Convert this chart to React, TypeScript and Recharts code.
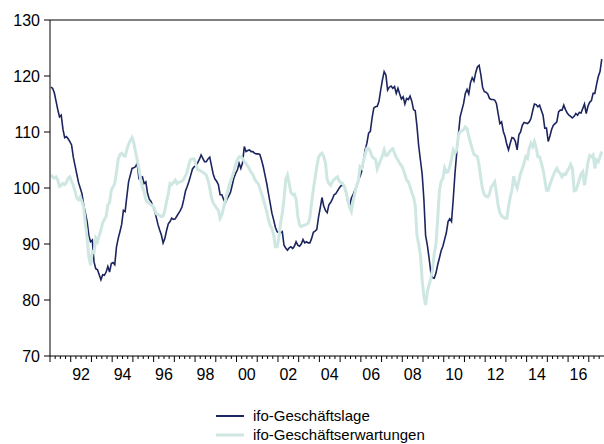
import React from "react";
import { LineChart, Line, XAxis, YAxis, ReferenceLine, Legend } from "recharts";

// monthly values, first observation Jan 1991
const startYear = 1991;

// ifo-Geschäftslage, one row per year
const lage = [
  118.0, 117.8, 117.0, 115.5, 114.0, 112.7, 113.0, 110.5, 109.0, 109.2, 108.8, 108.3,
  107.7, 105.5, 104.0, 102.5, 101.0, 100.0, 99.0, 97.0, 95.5, 94.0, 91.5, 90.4,
  90.7, 86.8, 85.6, 85.4, 84.5, 83.6, 84.5, 84.4, 85.0, 86.0, 85.0, 86.5,
  86.7, 86.3, 89.5, 91.0, 92.2, 93.5, 96.0, 95.8, 98.5, 101.1, 102.3, 103.5,
  103.6, 103.8, 104.4, 101.7, 101.9, 102.0, 100.8, 101.1, 99.0, 98.0, 97.6, 96.8,
  96.0, 94.8, 93.5, 92.5, 91.6, 90.2, 91.0, 92.4, 93.6, 94.0, 94.6, 94.4,
  94.5, 95.0, 95.5, 96.0, 96.7, 98.0, 99.5, 100.3, 101.2, 102.3, 103.4, 103.8,
  104.0, 104.5, 105.1, 105.9, 105.3, 104.7, 104.7, 105.2, 105.5, 104.0, 102.5, 101.6,
  101.2, 100.6, 98.8, 98.8, 98.0, 97.3, 98.0, 98.6, 99.2, 100.5, 101.8, 102.6,
  103.2, 104.4, 103.5, 104.5, 107.4, 106.5, 106.7, 106.8, 106.5, 106.5, 106.2, 106.1,
  106.1, 106.0, 105.0, 103.8, 102.3, 100.8, 99.0, 97.3, 95.5, 94.3, 93.0, 92.2,
  92.0, 92.0, 92.2, 89.8, 89.3, 88.9, 89.3, 89.5, 89.2, 89.6, 90.4, 89.8,
  89.6, 90.0, 90.8, 90.2, 90.4, 90.2, 90.2, 91.0, 92.1, 92.3, 92.6, 94.8,
  96.5, 98.3, 96.8, 96.0, 95.6, 97.0, 97.4, 98.0, 98.8, 99.0, 99.5, 100.0,
  100.4, 100.5, 100.3, 99.0, 97.5, 96.7, 98.2, 98.8, 99.6, 100.2, 101.4, 102.0,
  103.0, 104.8, 106.8, 108.0, 109.8, 110.1, 112.5, 114.3, 114.5, 114.6, 115.5, 117.5,
  119.3, 120.8, 120.2, 117.5, 118.0, 118.2, 117.8, 118.1, 116.9, 117.8, 116.8, 115.9,
  116.3, 115.0, 116.0, 115.8, 116.4, 115.5, 114.0, 113.8, 111.0, 107.5, 105.0, 102.5,
  98.0, 91.5, 89.8, 87.5, 85.0, 84.0, 83.9, 84.8, 86.3, 87.5, 88.8, 89.6,
  90.8, 92.0, 94.0, 94.5, 94.0, 98.0, 102.6, 106.2, 109.6, 112.7, 113.9, 115.1,
  116.9, 117.6, 116.8, 118.8, 119.7, 119.1, 120.6, 121.6, 121.9, 120.2, 118.0, 117.2,
  117.1, 116.8, 116.0, 115.8, 115.8, 115.7, 115.1, 113.3, 111.5, 111.8, 110.1, 109.2,
  107.8, 106.8, 108.0, 109.0, 108.9, 108.3, 106.8, 109.5, 110.0, 111.2, 111.7, 111.6,
  111.5, 111.8, 112.4, 113.8, 115.0, 114.9, 114.5, 114.8, 113.9, 113.0, 110.7, 110.7,
  108.3, 109.3, 110.5, 111.2, 111.5, 111.8, 113.6, 113.9, 113.9, 114.8, 114.0, 113.4,
  113.0, 112.8, 112.5, 112.8, 113.3, 113.0, 113.5, 113.4, 114.2, 115.0, 113.3, 114.6,
  115.3, 115.6, 116.9, 116.9, 118.5, 119.9, 120.8, 123.0,
];

// ifo-Geschäftserwartungen, one row per year
const erwartungen = [
  102.3, 102.0, 101.8, 102.0, 101.4, 100.3, 100.5, 100.8, 100.6, 101.0, 101.7, 102.0,
  101.2, 100.5, 99.4, 98.2, 97.9, 98.4, 97.6, 96.5, 93.7, 91.0, 87.7, 86.2,
  88.6, 88.5, 91.0, 90.4, 91.5, 92.5, 93.8, 94.4, 94.9, 97.0, 97.4, 99.6,
  100.2, 100.8, 102.8, 105.2, 106.0, 106.2, 105.8, 105.7, 106.8, 107.8, 108.5, 109.0,
  108.1, 106.5, 105.0, 103.5, 101.5, 100.2, 99.3, 97.9, 97.5, 97.3, 97.0, 96.8,
  96.3, 95.4, 95.3, 95.1, 94.9, 95.0, 96.0, 97.6, 99.0, 100.8, 100.6, 101.0,
  101.4, 100.8, 101.0, 101.1, 101.2, 101.6, 102.2, 103.0, 104.3, 105.1, 105.2, 105.2,
  104.2, 103.3, 103.2, 103.0, 102.8, 102.6, 102.3, 101.4, 100.0, 98.3, 97.3, 96.9,
  96.4, 96.0, 94.6, 95.2, 96.5, 97.6, 99.0, 100.1, 101.2, 102.0, 103.0, 104.2,
  105.0, 105.6, 105.6, 105.3, 104.7, 104.4, 103.9, 103.4, 102.8, 102.4, 101.6, 101.1,
  100.8, 100.0, 99.0, 98.1, 96.9, 95.8, 94.3, 93.3, 92.8, 91.7, 89.5, 89.5,
  91.0, 93.7, 95.5, 98.0, 101.5, 102.3, 100.8, 99.2, 98.8, 98.9, 98.0, 95.0,
  93.4, 93.1, 93.3, 93.4, 93.5, 93.7, 94.7, 97.5, 99.8, 101.8, 103.8, 105.5,
  106.0, 106.2, 105.6, 104.5, 101.5, 100.8, 100.5, 101.1, 101.5, 101.8, 102.0, 101.2,
  101.0, 100.8, 100.2, 99.2, 97.8, 96.5, 95.8, 97.6, 99.0, 100.4, 101.1, 103.8,
  103.5, 104.8, 106.0, 107.1, 107.1, 106.5, 105.6, 105.3, 105.1, 103.4, 104.2, 105.0,
  105.8, 106.8, 105.8, 105.9, 106.4, 106.8, 107.0, 106.2, 105.5, 105.0, 104.4, 104.0,
  103.4, 102.4, 101.4, 101.1, 100.2, 99.2, 98.4, 96.9, 91.5, 90.0, 88.0, 83.6,
  80.6, 79.1, 81.5, 82.7, 83.8, 85.4, 88.3, 90.0, 94.5, 99.5, 101.2, 101.7,
  103.6, 102.8, 102.9, 103.8, 105.2, 106.8, 106.2, 106.8, 109.4, 110.1, 110.2, 110.4,
  110.9, 110.6, 109.2, 108.1, 107.0, 106.0, 105.8, 105.6, 104.0, 101.7, 99.8, 98.8,
  98.5, 98.4, 99.0, 100.2, 100.6, 101.1, 99.2, 96.9, 95.6, 95.0, 94.8, 94.6,
  94.6, 96.6, 98.4, 99.6, 102.1, 100.7, 100.0, 101.3, 102.6, 103.5, 104.4, 105.6,
  105.3, 107.1, 108.0, 107.4, 108.3, 107.2, 105.6, 105.6, 104.5, 103.3, 101.5, 99.6,
  99.6, 100.6, 101.5, 102.3, 103.0, 103.5, 102.9, 102.6, 102.0, 102.5, 102.4, 103.0,
  103.5, 104.2, 103.5, 99.5, 99.6, 100.5, 101.5, 102.5, 102.9, 100.5, 102.4, 104.6,
  105.8, 105.6, 105.9, 103.5, 105.0, 104.7, 105.6, 106.5,
];

const yTicks = [70, 80, 90, 100, 110, 120, 130];
const legendOrder = ["lage", "erw"];

const data = lage.map((v, i) => ({ m: i, lage: v, erw: erwartungen[i] }));

// quarter boundaries in month units (boundary sits half a month before the first month)
const xMax = lage.length + 0.3;
const quarterTicks: number[] = [];
for (let q = 0; q * 3 - 0.5 <= xMax; q++) quarterTicks.push(q * 3 - 0.5);

function TimeTick(props: any) {
  const { x, y, payload } = props;
  const q = Math.round((payload.value + 0.5) / 3);
  const major = q % 4 === 0;
  const year = startYear + Math.floor(q / 4);
  const label = q % 4 === 2 && year % 2 === 0;
  return (
    <g>
      <line x1={x} x2={x} y1={y} y2={y + (major ? 6 : 3)} stroke="#000" />
      {label && (
        <text x={x} y={y + 24} textAnchor="middle" fontSize={16} fill="#000">
          {String(year % 100).padStart(2, "0")}
        </text>
      )}
    </g>
  );
}

const renderLegend = ({ payload }: any) => {
  const items = [...(payload || [])].sort(
    (a: any, b: any) => legendOrder.indexOf(a.dataKey) - legendOrder.indexOf(b.dataKey)
  );
  return (
    <div style={{ fontSize: 15, lineHeight: "19px", color: "#000" }}>
      {items.map((e: any) => (
        <div key={e.value} style={{ display: "flex", alignItems: "center", height: 19 }}>
          <svg width={28} height={6} style={{ marginRight: 9 }}>
            <line x1={0} x2={28} y1={3} y2={3} stroke={e.color} strokeWidth={e.dataKey === "erw" ? 3 : 2} />
          </svg>
          <span>{e.value}</span>
        </div>
      ))}
    </div>
  );
};

export default function App() {
  return (
    <div
      style={{
        position: "absolute",
        left: 0,
        top: 0,
        width: 604,
        height: 444,
        background: "#fff",
        fontFamily: "'Liberation Sans', Arial, Helvetica, sans-serif",
      }}
    >
      <LineChart width={604} height={444} data={data} margin={{ top: 20, right: 0, bottom: 48, left: 0 }}>
        <XAxis
          dataKey="m"
          type="number"
          domain={[-0.5, xMax]}
          allowDataOverflow
          ticks={quarterTicks}
          interval={0}
          tick={<TimeTick />}
          tickLine={false}
          tickSize={0}
          tickMargin={0}
          height={40}
          axisLine={{ stroke: "#000" }}
        />
        <YAxis
          domain={[70, 130]}
          ticks={yTicks}
          interval={0}
          width={50}
          tickSize={6}
          tickMargin={4}
          tick={{ fontSize: 16, fill: "#000" }}
          tickLine={{ stroke: "#000" }}
          axisLine={{ stroke: "#000" }}
        />
        <ReferenceLine y={130} stroke="#000" />
        <Line
          type="linear"
          dataKey="lage"
          name="ifo-Geschäftslage"
          stroke="#1c255e"
          strokeWidth={1.6}
          dot={false}
          isAnimationActive={false}
        />
        <Line
          type="linear"
          dataKey="erw"
          name="ifo-Geschäftserwartungen"
          stroke="#cfe7e2"
          strokeWidth={3}
          dot={false}
          isAnimationActive={false}
        />
        <Legend
          verticalAlign="middle"
          layout="horizontal"
          align="center"
          content={renderLegend}
          wrapperStyle={{ left: 216, top: 406, width: 300, height: 40 }}
        />
      </LineChart>
    </div>
  );
}
